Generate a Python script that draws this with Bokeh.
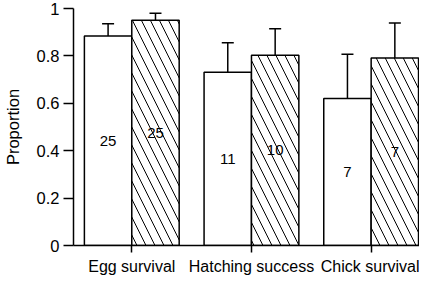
import numpy as np
from bokeh.plotting import figure
from bokeh.models import Range1d, FixedTicker, Whisker, TeeHead, ColumnDataSource
from bokeh.core.properties import value
from bokeh.embed import file_html
from bokeh.resources import INLINE

categories = ["Egg survival", "Hatching success", "Chick survival"]
white_vals = [0.884, 0.731, 0.620]
white_err = [0.052, 0.124, 0.187]
white_n = ["25", "11", "7"]
hatch_vals = [0.950, 0.803, 0.791]
hatch_err = [0.030, 0.112, 0.148]
hatch_n = ["25", "10", "7"]
y_ticks = [0, 0.2, 0.4, 0.6, 0.8, 1]
y_tick_labels = ["0", "0.2", "0.4", "0.6", "0.8", "1"]

FONT = "Liberation Sans"
xc = np.arange(1, len(categories) + 1)
bw = 0.396

p = figure(width=419, height=277, output_backend="svg", toolbar_location=None,
           x_range=Range1d(0.513, 3.404), y_range=Range1d(0, 1),
           min_border_left=68, min_border_right=0, min_border_top=8, min_border_bottom=29)
p.grid.visible = False
p.outline_line_color = None

ws = ColumnDataSource(dict(x=xc - bw / 2, top=white_vals, upper=np.array(white_vals) + np.array(white_err),
                           mid=np.array(white_vals) / 2, n=white_n))
hs = ColumnDataSource(dict(x=xc + bw / 2, top=hatch_vals, upper=np.array(hatch_vals) + np.array(hatch_err),
                           mid=np.array(hatch_vals) / 2, n=hatch_n))

p.vbar(x="x", top="top", bottom=0, width=bw, source=ws, fill_color="white",
       line_color="black", line_width=1.5)
p.vbar(x="x", top="top", bottom=0, width=bw, source=hs, fill_color="white",
       line_color="black", line_width=1.5, hatch_pattern="\\", hatch_scale=18,
       hatch_weight=1, hatch_color="black")

for src in (ws, hs):
    w = Whisker(source=src, base="x", lower="top", upper="upper", dimension="height",
                line_color="black", line_width=1.5,
                upper_head=TeeHead(size=12, line_color="black", line_width=1.5), lower_head=None)
    p.add_layout(w)
    p.text(x="x", y="mid", text="n", source=src, text_align="center", text_baseline="middle",
           text_font=value(FONT), text_font_size="15px", text_color="black")

p.xaxis.ticker = FixedTicker(ticks=list(xc))
p.xaxis.major_label_overrides = {int(i): c for i, c in zip(xc, categories)}
p.yaxis.ticker = FixedTicker(ticks=y_ticks)
p.yaxis.major_label_overrides = {t: l for t, l in zip(y_ticks, y_tick_labels)}
p.yaxis.axis_label = "Proportion"

for ax in (p.xaxis, p.yaxis):
    ax.axis_line_width = 1.5
    ax.axis_line_color = "black"
    ax.major_tick_line_width = 1.5
    ax.major_tick_line_color = "black"
    ax.major_tick_in = 0
    ax.minor_tick_line_color = None
    ax.major_label_text_font = FONT
    ax.major_label_text_color = "black"
    ax.axis_label_text_font = FONT
    ax.axis_label_text_font_size = "16.5px"
    ax.axis_label_text_font_style = "normal"
    ax.axis_label_text_color = "black"

p.xaxis.major_label_text_font_size = "16px"
p.yaxis.major_label_text_font_size = "16.5px"
p.xaxis.major_tick_out = 7
p.xaxis.major_label_standoff = 5
p.yaxis.major_tick_out = 10
p.yaxis.major_label_standoff = 4
p.yaxis.axis_label_standoff = 12

open("out.html", "w").write(file_html(p, INLINE))
